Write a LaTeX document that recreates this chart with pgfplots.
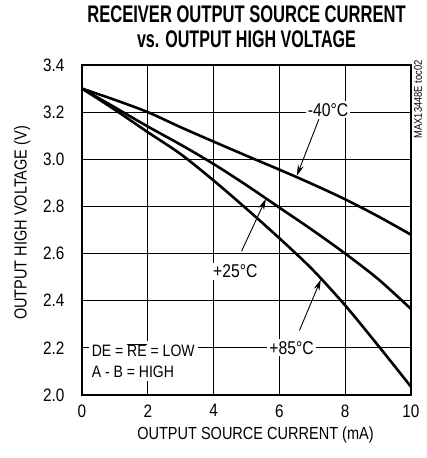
\documentclass[border=0pt]{standalone}
\usepackage{fontspec}
\usepackage{graphicx}
\setmainfont{Liberation Sans}[FakeStretch=0.85]
\newfontfamily\titlefont{Liberation Sans Bold}
\newfontfamily\labelfont{Liberation Sans}[FakeStretch=0.83]
\usepackage{pgfplots}
\pgfplotsset{compat=1.18}
\usetikzlibrary{arrows.meta}

\begin{document}
\begin{tikzpicture}[x=1pt,y=1pt]
\useasboundingbox (-82,-63) rectangle (345,395);
\begin{axis}[
  name=ax,
  at={(0,0)}, anchor=south west,
  scale only axis, width=329pt, height=330pt,
  xmin=0, xmax=10, ymin=2.0, ymax=3.4,
  xtick={0,2,...,10}, ytick={2.0,2.2,...,3.4},
  yticklabel style={/pgf/number format/fixed, /pgf/number format/fixed zerofill, /pgf/number format/precision=1},
  /pgf/number format/assume math mode=true,
  grid=major, major grid style={black, line width=0.8pt},
  major tick length=0pt,
  axis line style={line width=2.2pt},
  tick label style={font=\fontsize{18}{18}\selectfont},
  xticklabel style={yshift=-6pt},
  yticklabel style={xshift=-14pt},
  label style={font=\labelfont\fontsize{17.5}{17.5}\selectfont},
  xlabel={OUTPUT SOURCE CURRENT (mA)},
  ylabel={OUTPUT HIGH VOLTAGE (V)},
  xlabel style={yshift=-3pt, xshift=9pt},
  ylabel style={yshift=6pt, xshift=7pt},
  title={\scalebox{0.69}[1]{RECEIVER OUTPUT SOURCE CURRENT}\\\scalebox{0.67}[1]{vs. OUTPUT HIGH VOLTAGE}},
  title style={font=\titlefont\fontsize{24}{24.5}\selectfont, align=center, yshift=8pt},
  clip=false,
]
% -40 C
\addplot[black, line width=2.6pt, smooth] coordinates {
  (0,3.30) (1,3.252) (2,3.20) (3,3.136) (4,3.075) (5,3.015)
  (6,2.956) (7,2.895) (8,2.830) (9,2.758) (10,2.680)};
% +25 C
\addplot[black, line width=2.6pt, smooth] coordinates {
  (0,3.30) (1,3.22) (2,3.139) (3,3.062) (4,2.98) (5,2.89)
  (6,2.795) (7,2.700) (8,2.600) (9,2.492) (10,2.365)};
% +85 C
\addplot[black, line width=2.6pt, smooth] coordinates {
  (0,3.30) (1,3.21) (2,3.115) (3,3.022) (4,2.91) (5,2.79)
  (6,2.665) (7,2.533) (8,2.380) (9,2.21) (10,2.035)};

\draw[line width=0.9pt, -{Stealth[length=11pt,width=6pt]}] (axis cs:7.2,3.17) -- (axis cs:6.53,2.93);
\draw[line width=0.9pt, -{Stealth[length=11pt,width=6pt]}] (axis cs:4.85,2.61) -- (axis cs:5.59,2.832);
\draw[line width=0.9pt, -{Stealth[length=11pt,width=6pt]}] (axis cs:6.61,2.274) -- (axis cs:7.26,2.49);

\node[fill=white, inner sep=2pt, font=\fontsize{18.5}{18.5}\selectfont] at (axis cs:7.48,3.21) {-40\textdegree C};
\node[fill=white, inner sep=2pt, font=\fontsize{18.5}{18.5}\selectfont] at (axis cs:4.66,2.525) {+25\textdegree C};
\node[fill=white, inner sep=2pt, font=\fontsize{18.5}{18.5}\selectfont] at (axis cs:6.37,2.20) {+85\textdegree C};
\node[fill=white, inner sep=3pt, anchor=west, align=left, font=\fontsize{16.5}{21}\selectfont] at (axis cs:0.2,2.145)
  {DE = $\overline{\mbox{RE}}$ = LOW\\A - B = HIGH};
\node[rotate=90, anchor=north east, inner sep=0pt, font=\fontsize{11}{11}\selectfont] at (axis cs:10.09,3.42) {MAX13448E toc02};
\end{axis}
\end{tikzpicture}
\end{document}
